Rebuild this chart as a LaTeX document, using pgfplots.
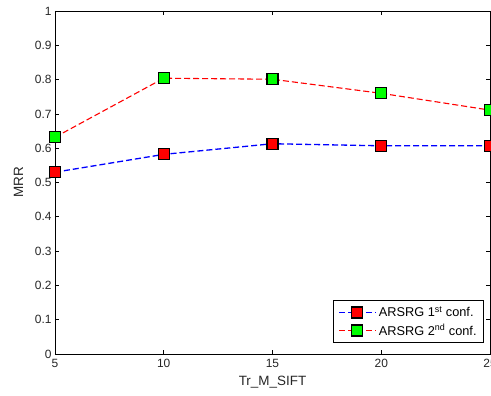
\documentclass[border=0pt]{standalone}
\usepackage{pgfplots}
\pgfplotsset{compat=1.18}
\usepackage{fontspec}
\setmainfont{Liberation Sans}
\begin{document}
\begin{tikzpicture}[x=1bp,y=1bp]
\begin{axis}[
  at={(0,0)}, anchor=south west,
  scale only axis, width=435bp, height=343bp,
  xmin=5, xmax=25, ymin=0, ymax=1,
  xtick={5,10,15,20,25},
  ytick={0,0.1,0.2,0.3,0.4,0.5,0.6,0.7,0.8,0.9,1},
  yticklabels={0,0.1,0.2,0.3,0.4,0.5,0.6,0.7,0.8,0.9,1},
  xticklabels={5,10,15,20,25},
  tick align=inside,
  major tick length=4bp,
  tick style={black, line width=0.6bp},
  axis line style={line width=0.7bp},
  ticklabel style={font=\fontsize{12}{14}\selectfont, text=black!85},
  xticklabel style={yshift=-2bp},
  label style={font=\fontsize{13.5}{15}\selectfont, text=black!85},
  xlabel={Tr\_M\_SIFT},
  ylabel={MRR},
  xlabel style={yshift=-1bp},
  ylabel style={yshift=5bp},
  legend style={at={(rel axis cs:0.986,0.032)}, anchor=south east,
    font=\fontsize{12.8}{14}\selectfont, draw=black, line width=0.7bp,
    inner xsep=5bp, inner ysep=4bp, row sep=2bp},
  legend cell align=left,
  legend image code/.code={%
    \draw[#1, mark repeat=2, mark phase=2] plot coordinates {(0bp,0bp) (18bp,0bp) (37bp,0bp)};},
]
\addplot[blue, dashed, line width=1.3bp, dash pattern=on 6bp off 3bp,
  mark=square*, mark size=5.5bp,
  mark options={solid, fill=red, draw=black, line width=1.2bp}]
  coordinates {(5,0.530) (10,0.582) (15,0.613) (20,0.607) (25,0.607)};
\addlegendentry{ARSRG 1\textsuperscript{st} conf.}
\addplot[red, dashed, line width=1.1bp, dash pattern=on 6bp off 3bp,
  mark=square*, mark size=5.5bp,
  mark options={solid, fill=green, draw=black, line width=1.2bp}]
  coordinates {(5,0.632) (10,0.804) (15,0.801) (20,0.760) (25,0.711)};
\addlegendentry{ARSRG 2\textsuperscript{nd} conf.}
\end{axis}
\pgfresetboundingbox
\path[use as bounding box] (-55bp,-42bp) rectangle (436bp,354bp);
\end{tikzpicture}
\end{document}
